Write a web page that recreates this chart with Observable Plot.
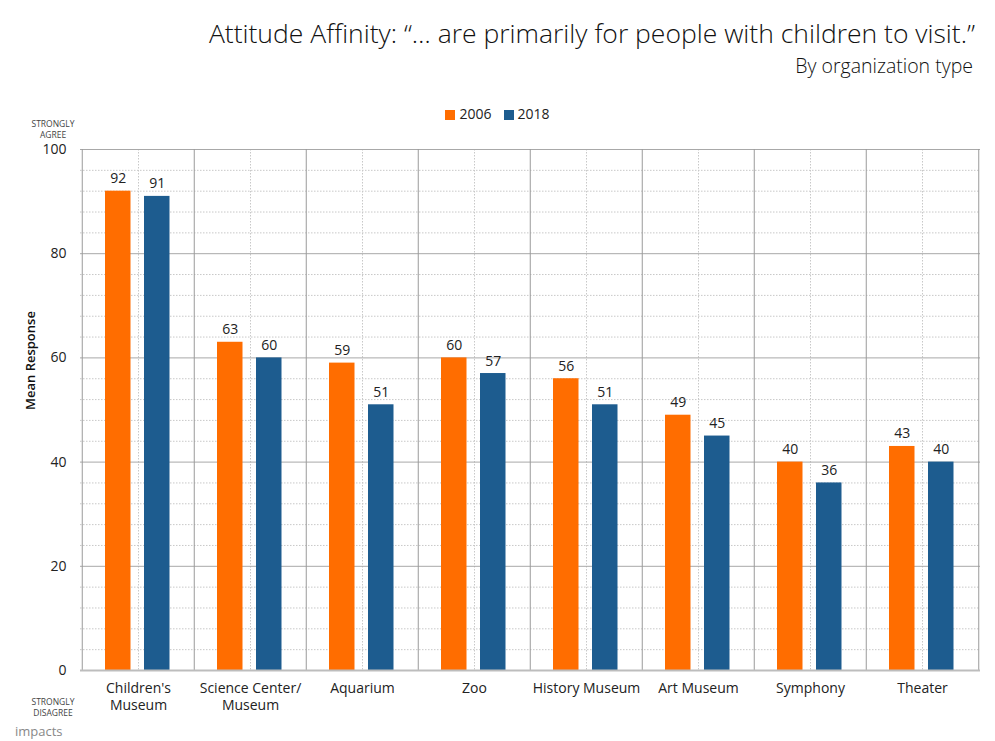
<!DOCTYPE html>
<html>
<head>
<meta charset="utf-8">
<script src="https://cdn.jsdelivr.net/npm/d3@7"></script>
<script src="https://cdn.jsdelivr.net/npm/@observablehq/plot@0.6"></script>
<style>
  body { margin: 0; background: #fff; font-family: "Open Sans", Lato, sans-serif; }
  #wrap { position: relative; width: 995px; height: 741px; overflow: hidden; }
  #chart { position: absolute; left: 0; top: 0; }
  .title { position: absolute; right: 20px; top: 20px; font-size: 26.5px; line-height: 1; font-weight: 300; color: #111; white-space: nowrap; }
  .subtitle { position: absolute; right: 22px; top: 56px; font-size: 19.5px; line-height: 1; font-weight: 300; color: #111; white-space: nowrap; }
  .legend { position: absolute; left: 0; width: 995px; top: 104px; text-align: center; font-size: 14px; color: #222; }
  .legend span.sw { display: inline-block; width: 10px; height: 10px; margin-right: 4px; vertical-align: -1px; }
  .legend span.item { margin: 0 6px; }
  .small { position: absolute; width: 80px; left: 13px; text-align: center; font-size: 8.5px; line-height: 11px; color: #444; }
  .logo { position: absolute; left: 15px; top: 722px; font-size: 13px; color: #888; }
</style>
</head>
<body>
<div id="wrap">
  <div id="chart"></div>
  <div class="title">Attitude Affinity: “… are primarily for people with children to visit.”</div>
  <div class="subtitle">By organization type</div>
  <div class="legend"><span class="item"><span class="sw" style="background:#FF6D00"></span>2006</span><span class="item"><span class="sw" style="background:#1D5C8F"></span>2018</span></div>
  <div class="small" style="top:118px">STRONGLY<br>AGREE</div>
  <div class="small" style="top:696px">STRONGLY<br>DISAGREE</div>
  <div class="logo">impacts</div>
</div>
<script>
const categories = ["Children's\nMuseum", "Science Center/\nMuseum", "Aquarium", "Zoo", "History Museum", "Art Museum", "Symphony", "Theater"];
const values2006 = [92, 63, 59, 60, 56, 49, 40, 43];
const values2018 = [91, 60, 51, 57, 51, 45, 36, 40];
const yTicks = [0, 20, 40, 60, 80, 100];
const minorTicks = d3.range(0, 101, 4);
const colors = {"2006": "#FF6D00", "2018": "#1D5C8F"};

const W = 995, H = 741;
const mL = 80, mR = 15, mT = 149, mB = 71;
const band = (W - mL - mR) / categories.length;

const d06 = categories.map((c, i) => ({cat: c, value: values2006[i]}));
const d18 = categories.map((c, i) => ({cat: c, value: values2018[i]}));

const barW = 26;
const l06 = 23, l18 = 62;

const plot = Plot.plot({
  width: W, height: H,
  marginLeft: mL, marginRight: mR, marginTop: mT, marginBottom: mB,
  style: {fontFamily: "'Open Sans', Lato, sans-serif", fontSize: "13px", color: "#222", background: "transparent"},
  x: {domain: categories, padding: 0, label: null},
  y: {domain: [0, 100], label: null},
  marks: [
    Plot.ruleY(minorTicks.filter(d => d % 20 !== 0), {y: d => d, stroke: "#c8c8c8", strokeDasharray: "1.5,1.5"}),
    Plot.ruleX(categories, {x: d => d, stroke: "#c8c8c8", strokeDasharray: "1.5,1.5"}),
    Plot.ruleY(yTicks.filter(d => d > 0), {y: d => d, stroke: "#a8a8a8"}),
    Plot.ruleX(categories, {x: d => d, dx: -band / 2, stroke: "#9a9a9a"}),
    Plot.ruleX([categories[categories.length - 1]], {x: d => d, dx: band / 2, stroke: "#9a9a9a"}),
    Plot.barY(d06, {x: "cat", y: "value", fill: colors["2006"], insetLeft: l06, insetRight: band - l06 - barW}),
    Plot.barY(d18, {x: "cat", y: "value", fill: colors["2018"], insetLeft: l18, insetRight: band - l18 - barW}),
    Plot.ruleY([0], {stroke: "#bdbdbd", strokeWidth: 2}),
    Plot.text(d06, {x: "cat", y: "value", text: d => String(d.value), dx: l06 + barW / 2 - band / 2, dy: -8, lineAnchor: "bottom", fontSize: 14, fill: "#222"}),
    Plot.text(d18, {x: "cat", y: "value", text: d => String(d.value), dx: l18 + barW / 2 - band / 2, dy: -8, lineAnchor: "bottom", fontSize: 14, fill: "#222"}),
    Plot.axisY({ticks: yTicks, tickSize: 0, tickPadding: 14, fontSize: 14, label: null}),
    Plot.axisX({tickSize: 0, tickPadding: 10, fontSize: 14, lineHeight: 1.25, label: null}),
    Plot.text(["Mean Response"], {frameAnchor: "left", dx: -50, rotate: -90, fontSize: 13, fontWeight: 600, fill: "#111"})
  ]
});
document.getElementById("chart").appendChild(plot);
</script>
</body>
</html>
